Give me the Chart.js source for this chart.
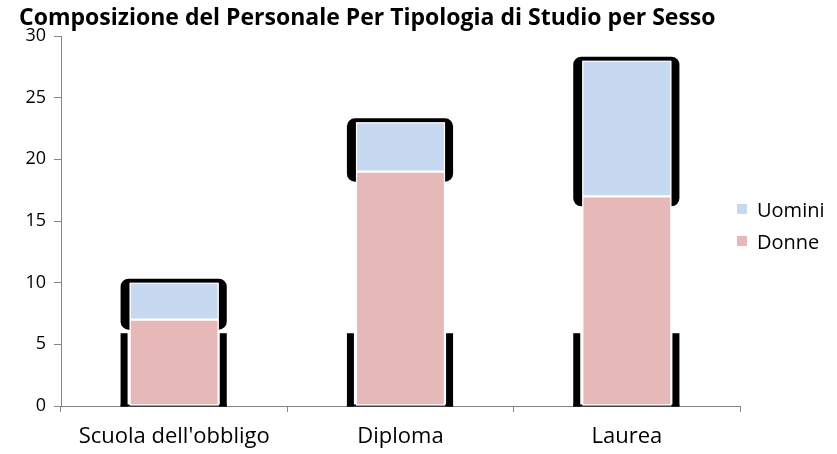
<!DOCTYPE html>
<html>
<head>
<meta charset="utf-8">
<script src="https://cdn.jsdelivr.net/npm/chart.js@4/dist/chart.umd.min.js"></script>
<style>
  html, body { margin: 0; padding: 0; background: #fff; }
  #wrap { position: relative; width: 837px; height: 454px; }
  #legend { position: absolute; left: 737px; top: 193px; font-family: 'Open Sans', sans-serif; font-size: 20px; color: #000; }
  .li { display: flex; align-items: center; height: 32px; }
  .sw { width: 10px; height: 10px; margin-right: 10px; }
</style>
</head>
<body>
<div id="wrap">
  <canvas id="c" width="837" height="454"></canvas>
  <div id="legend"></div>
</div>
<script>
const categories = ["Scuola dell'obbligo", "Diploma", "Laurea"];
const donne = [7, 19, 17];
const uomini = [3, 4, 11];
const yTicks = [0, 5, 10, 15, 20, 25, 30];
const titleText = "Composizione del Personale Per Tipologia di Studio per Sesso";
const seriesNames = ["Donne", "Uomini"];

const COL_DONNE = '#E6B9B8';
const COL_UOMINI = '#C6D9F1';
const AXIS = '#868686';
const FONT = 'Open Sans';

function rr(ctx, l, t, r, b, rad) {
  ctx.beginPath();
  ctx.moveTo(l + rad, t);
  ctx.lineTo(r - rad, t);
  ctx.arcTo(r, t, r, t + rad, rad);
  ctx.lineTo(r, b - rad);
  ctx.arcTo(r, b, r - rad, b, rad);
  ctx.lineTo(l + rad, b);
  ctx.arcTo(l, b, l, b - rad, rad);
  ctx.lineTo(l, t + rad);
  ctx.arcTo(l, t, l + rad, t, rad);
  ctx.closePath();
  ctx.fill();
}

const shadowPlugin = {
  id: 'shadowArtifacts',
  beforeDatasetsDraw(chart) {
    const ctx = chart.ctx;
    const ys = chart.scales.y;
    ctx.save();
    ctx.fillStyle = '#000';
    const lowLevel = ys.getPixelForValue(5.9);
    const low = chart.getDatasetMeta(0).data;
    low.forEach(el => {
      const l = el.x - el.width / 2, r = el.x + el.width / 2;
      ctx.fillRect(l - 9, lowLevel, 7, el.base - lowLevel + 1);
      ctx.fillRect(r + 1, lowLevel, 7, el.base - lowLevel + 1);
      ctx.fillRect(l - 9, el.base - 1, el.width + 17, 2);
    });
    chart.getDatasetMeta(1).data.forEach((el, i) => {
      const l = el.x - el.width / 2, r = el.x + el.width / 2;
      ctx.fillStyle = '#000';
      rr(ctx, l - 9, el.y - 4, r + 8, el.base + 10, 8);
      ctx.fillStyle = '#fff';
      ctx.fillRect(l, el.y, el.width, low[i].base - el.y);
    });
    ctx.restore();
  }
};

new Chart(document.getElementById('c'), {
  type: 'bar',
  data: {
    labels: categories,
    datasets: [
      { label: seriesNames[0], data: donne, backgroundColor: COL_DONNE, borderColor: '#fff', borderWidth: 1.2, borderSkipped: false },
      { label: seriesNames[1], data: uomini, backgroundColor: COL_UOMINI, borderColor: '#fff', borderWidth: 1.2, borderSkipped: false }
    ]
  },
  options: {
    responsive: false,
    animation: false,
    layout: { padding: { left: 19, right: 97, top: 0, bottom: 0 } },
    datasets: { bar: { barPercentage: 0.394, categoryPercentage: 1 } },
    plugins: {
      legend: { display: false },
      tooltip: { enabled: false },
      title: {
        display: true, text: titleText, align: 'start', color: '#000',
        font: { family: FONT, size: 23, weight: 'bold', lineHeight: 1.2 },
        padding: { top: 5, bottom: 3.4 }
      }
    },
    scales: {
      x: {
        stacked: true,
        grid: { display: true, drawOnChartArea: false, drawTicks: true, tickLength: 6, color: AXIS, offset: true },
        border: { display: true, color: AXIS },
        ticks: { color: '#000', font: { family: FONT, size: 22 }, padding: 12, maxRotation: 0 },
        afterFit(s) { s.height = 48; }
      },
      y: {
        stacked: true, min: 0, max: 30,
        afterBuildTicks(s) { s.ticks = yTicks.map(v => ({ value: v })); },
        grid: { display: true, drawOnChartArea: false, drawTicks: true, tickLength: 7, color: AXIS },
        border: { display: true, color: AXIS },
        ticks: { color: '#000', font: { family: FONT, size: 18 }, padding: 8 },
        afterFit(s) { s.width = 42; }
      }
    }
  },
  plugins: [shadowPlugin]
});

const leg = document.getElementById('legend');
[[seriesNames[1], COL_UOMINI], [seriesNames[0], COL_DONNE]].forEach(([name, col]) => {
  const d = document.createElement('div');
  d.className = 'li';
  d.innerHTML = '<span class="sw" style="background:' + col + '"></span><span>' + name + '</span>';
  leg.appendChild(d);
});
</script>
</body>
</html>
